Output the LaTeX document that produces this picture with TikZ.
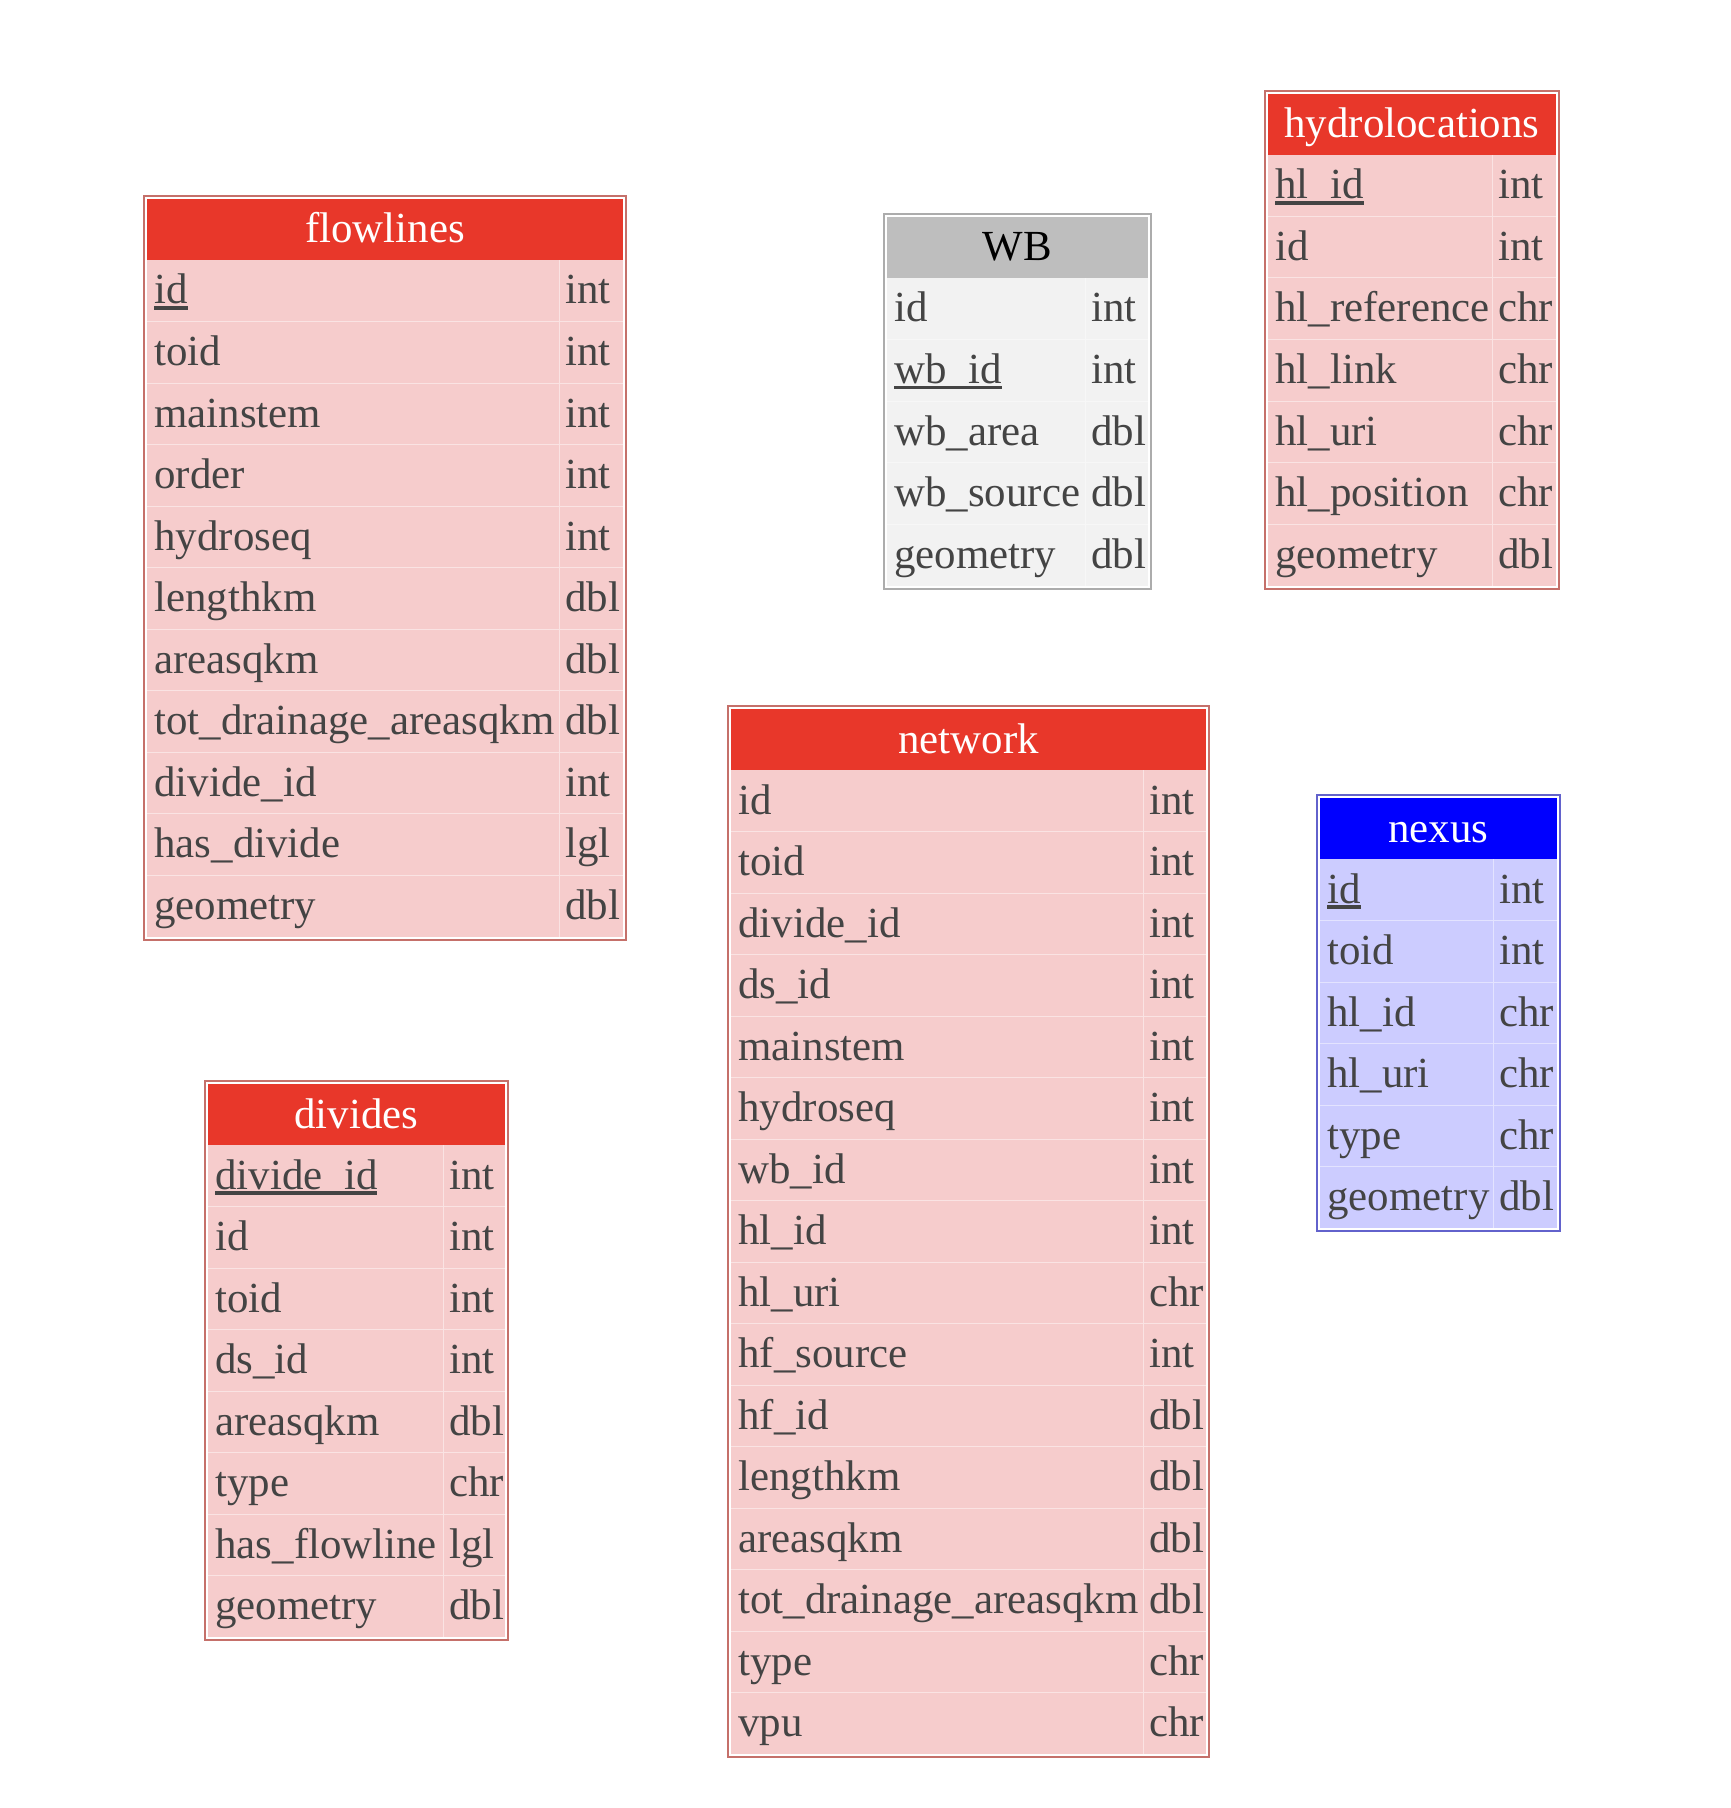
\documentclass[tikz,border=0pt]{standalone}
\usepackage{fontspec}
\setmainfont{Liberation Serif}
\definecolor{redhead}{HTML}{E8372A}
\definecolor{redbody}{HTML}{F6CCCC}
\definecolor{redline}{HTML}{C5706A}
\definecolor{bluehead}{HTML}{0000FF}
\definecolor{bluebody}{HTML}{CCCCFF}
\definecolor{blueline}{HTML}{6262CC}
\definecolor{greyhead}{HTML}{BEBEBE}
\definecolor{greybody}{HTML}{F2F2F2}
\definecolor{greyline}{HTML}{ACACAC}
\definecolor{fieldtext}{HTML}{444444}
\newcommand\fieldfont{\fontsize{21.45}{25}\selectfont}
\newsavebox\keybox
\newcommand\keyfield[1]{\sbox\keybox{#1}\rlap{\rule[-0.13em]{\wd\keybox}{0.075em}}\usebox\keybox}
\tikzset{
  tableframe/.style={draw=#1, line width=1pt},
  cellsep/.style={draw=white, opacity=0.45, line width=0.5pt},
  headtext/.style={anchor=base, inner sep=0pt, text=white, font=\fieldfont},
  fieldname/.style={anchor=base west, inner sep=0pt, text=fieldtext, font=\fieldfont},
  fieldtype/.style={fieldname}
}
\begin{document}
\begin{tikzpicture}[x=0.5pt, y=-0.5pt]
  \useasboundingbox (0,0) rectangle (1730,1808);
  % flowlines
  \fill[redhead] (147,199) rectangle (623,260);
  \fill[redbody] (147,260) rectangle (623,936.5);
  \draw[cellsep] (147,321.5) -- (623,321.5) (147,383) -- (623,383)
    (147,444.5) -- (623,444.5) (147,506) -- (623,506) (147,567.5) -- (623,567.5)
    (147,629) -- (623,629) (147,690.5) -- (623,690.5) (147,752) -- (623,752)
    (147,813.5) -- (623,813.5) (147,875) -- (623,875) (559,260) -- (559,936.5);
  \draw[tableframe=redline] (144,196) rectangle (626,939.5);
  \draw
    (385,243) node[headtext] (flowlines) {flowlines}
    (154,304) node[fieldname] (fl-id) {\keyfield{id}}
    (154,365.5) node[fieldname] (fl-toid) {toid}
    (154,427) node[fieldname] (fl-mainstem) {mainstem}
    (154,488.5) node[fieldname] (fl-order) {order}
    (154,550) node[fieldname] (fl-hydroseq) {hydroseq}
    (154,611.5) node[fieldname] (fl-lengthkm) {lengthkm}
    (154,673) node[fieldname] (fl-areasqkm) {areasqkm}
    (154,734.5) node[fieldname] (fl-totarea) {tot\_drainage\_areasqkm}
    (154,796) node[fieldname] (fl-divide) {divide\_id}
    (154,857.5) node[fieldname] (fl-hasdivide) {has\_divide}
    (154,919) node[fieldname] (fl-geometry) {geometry}
    (565,304) node[fieldtype] (fl-id-t) {int}
    (565,365.5) node[fieldtype] (fl-toid-t) {int}
    (565,427) node[fieldtype] (fl-mainstem-t) {int}
    (565,488.5) node[fieldtype] (fl-order-t) {int}
    (565,550) node[fieldtype] (fl-hydroseq-t) {int}
    (565,611.5) node[fieldtype] (fl-lengthkm-t) {dbl}
    (565,673) node[fieldtype] (fl-areasqkm-t) {dbl}
    (565,734.5) node[fieldtype] (fl-totarea-t) {dbl}
    (565,796) node[fieldtype] (fl-divide-t) {int}
    (565,857.5) node[fieldtype] (fl-hasdivide-t) {lgl}
    (565,919) node[fieldtype] (fl-geometry-t) {dbl};
  % WB
  \fill[greyhead] (887,217) rectangle (1148,278);
  \fill[greybody] (887,278) rectangle (1148,585.5);
  \draw[cellsep] (887,339.5) -- (1148,339.5) (887,401) -- (1148,401)
    (887,462.5) -- (1148,462.5) (887,524) -- (1148,524) (1085,278) -- (1085,585.5);
  \draw[tableframe=greyline] (884,214) rectangle (1151,588.5);
  \draw
    (1017.5,261) node[headtext, text=black] (wb) {WB}
    (894,322) node[fieldname] (wb-id) {id}
    (894,383.5) node[fieldname] (wb-wbid) {\keyfield{wb\_id}}
    (894,445) node[fieldname] (wb-area) {wb\_area}
    (894,506.5) node[fieldname] (wb-source) {wb\_source}
    (894,568) node[fieldname] (wb-geometry) {geometry}
    (1091,322) node[fieldtype] (wb-id-t) {int}
    (1091,383.5) node[fieldtype] (wb-wbid-t) {int}
    (1091,445) node[fieldtype] (wb-area-t) {dbl}
    (1091,506.5) node[fieldtype] (wb-source-t) {dbl}
    (1091,568) node[fieldtype] (wb-geometry-t) {dbl};
  % hydrolocations
  \fill[redhead] (1268,94) rectangle (1556,155);
  \fill[redbody] (1268,155) rectangle (1556,585.5);
  \draw[cellsep] (1268,216.5) -- (1556,216.5) (1268,278) -- (1556,278)
    (1268,339.5) -- (1556,339.5) (1268,401) -- (1556,401) (1268,462.5) -- (1556,462.5)
    (1268,524) -- (1556,524) (1492,155) -- (1492,585.5);
  \draw[tableframe=redline] (1265,91) rectangle (1559,588.5);
  \draw
    (1412,138) node[headtext] (hydrolocations) {hydrolocations}
    (1275,199) node[fieldname] (hl-hlid) {\keyfield{hl\_id}}
    (1275,260.5) node[fieldname] (hl-id) {id}
    (1275,322) node[fieldname] (hl-reference) {hl\_reference}
    (1275,383.5) node[fieldname] (hl-link) {hl\_link}
    (1275,445) node[fieldname] (hl-uri) {hl\_uri}
    (1275,506.5) node[fieldname] (hl-position) {hl\_position}
    (1275,568) node[fieldname] (hl-geometry) {geometry}
    (1498,199) node[fieldtype] (hl-hlid-t) {int}
    (1498,260.5) node[fieldtype] (hl-id-t) {int}
    (1498,322) node[fieldtype] (hl-reference-t) {chr}
    (1498,383.5) node[fieldtype] (hl-link-t) {chr}
    (1498,445) node[fieldtype] (hl-uri-t) {chr}
    (1498,506.5) node[fieldtype] (hl-position-t) {chr}
    (1498,568) node[fieldtype] (hl-geometry-t) {dbl};
  % network
  \fill[redhead] (731,709) rectangle (1206,770);
  \fill[redbody] (731,770) rectangle (1206,1754);
  \draw[cellsep] (731,831.5) -- (1206,831.5) (731,893) -- (1206,893)
    (731,954.5) -- (1206,954.5) (731,1016) -- (1206,1016) (731,1077.5) -- (1206,1077.5)
    (731,1139) -- (1206,1139) (731,1200.5) -- (1206,1200.5) (731,1262) -- (1206,1262)
    (731,1323.5) -- (1206,1323.5) (731,1385) -- (1206,1385) (731,1446.5) -- (1206,1446.5)
    (731,1508) -- (1206,1508) (731,1569.5) -- (1206,1569.5) (731,1631) -- (1206,1631)
    (731,1692.5) -- (1206,1692.5) (1143,770) -- (1143,1754);
  \draw[tableframe=redline] (728,706) rectangle (1209,1757);
  \draw
    (968.5,753) node[headtext] (network) {network}
    (738,814) node[fieldname] (nw-id) {id}
    (738,875.5) node[fieldname] (nw-toid) {toid}
    (738,937) node[fieldname] (nw-divide) {divide\_id}
    (738,998.5) node[fieldname] (nw-ds) {ds\_id}
    (738,1060) node[fieldname] (nw-mainstem) {mainstem}
    (738,1121.5) node[fieldname] (nw-hydroseq) {hydroseq}
    (738,1183) node[fieldname] (nw-wb) {wb\_id}
    (738,1244.5) node[fieldname] (nw-hl) {hl\_id}
    (738,1306) node[fieldname] (nw-hluri) {hl\_uri}
    (738,1367.5) node[fieldname] (nw-hfsource) {hf\_source}
    (738,1429) node[fieldname] (nw-hf) {hf\_id}
    (738,1490.5) node[fieldname] (nw-lengthkm) {lengthkm}
    (738,1552) node[fieldname] (nw-areasqkm) {areasqkm}
    (738,1613.5) node[fieldname] (nw-totarea) {tot\_drainage\_areasqkm}
    (738,1675) node[fieldname] (nw-type) {type}
    (738,1736.5) node[fieldname] (nw-vpu) {vpu}
    (1149,814) node[fieldtype] (nw-id-t) {int}
    (1149,875.5) node[fieldtype] (nw-toid-t) {int}
    (1149,937) node[fieldtype] (nw-divide-t) {int}
    (1149,998.5) node[fieldtype] (nw-ds-t) {int}
    (1149,1060) node[fieldtype] (nw-mainstem-t) {int}
    (1149,1121.5) node[fieldtype] (nw-hydroseq-t) {int}
    (1149,1183) node[fieldtype] (nw-wb-t) {int}
    (1149,1244.5) node[fieldtype] (nw-hl-t) {int}
    (1149,1306) node[fieldtype] (nw-hluri-t) {chr}
    (1149,1367.5) node[fieldtype] (nw-hfsource-t) {int}
    (1149,1429) node[fieldtype] (nw-hf-t) {dbl}
    (1149,1490.5) node[fieldtype] (nw-lengthkm-t) {dbl}
    (1149,1552) node[fieldtype] (nw-areasqkm-t) {dbl}
    (1149,1613.5) node[fieldtype] (nw-totarea-t) {dbl}
    (1149,1675) node[fieldtype] (nw-type-t) {chr}
    (1149,1736.5) node[fieldtype] (nw-vpu-t) {chr};
  % nexus
  \fill[bluehead] (1320,798) rectangle (1557,859);
  \fill[bluebody] (1320,859) rectangle (1557,1228);
  \draw[cellsep] (1320,920.5) -- (1557,920.5) (1320,982) -- (1557,982)
    (1320,1043.5) -- (1557,1043.5) (1320,1105) -- (1557,1105) (1320,1166.5) -- (1557,1166.5)
    (1493,859) -- (1493,1228);
  \draw[tableframe=blueline] (1317,795) rectangle (1560,1231);
  \draw
    (1438.5,842) node[headtext] (nexus) {nexus}
    (1327,903) node[fieldname] (nx-id) {\keyfield{id}}
    (1327,964.5) node[fieldname] (nx-toid) {toid}
    (1327,1026) node[fieldname] (nx-hl) {hl\_id}
    (1327,1087.5) node[fieldname] (nx-hluri) {hl\_uri}
    (1327,1149) node[fieldname] (nx-type) {type}
    (1327,1210.5) node[fieldname] (nx-geometry) {geometry}
    (1499,903) node[fieldtype] (nx-id-t) {int}
    (1499,964.5) node[fieldtype] (nx-toid-t) {int}
    (1499,1026) node[fieldtype] (nx-hl-t) {chr}
    (1499,1087.5) node[fieldtype] (nx-hluri-t) {chr}
    (1499,1149) node[fieldtype] (nx-type-t) {chr}
    (1499,1210.5) node[fieldtype] (nx-geometry-t) {dbl};
  % divides
  \fill[redhead] (208,1084) rectangle (505,1145);
  \fill[redbody] (208,1145) rectangle (505,1637);
  \draw[cellsep] (208,1206.5) -- (505,1206.5) (208,1268) -- (505,1268)
    (208,1329.5) -- (505,1329.5) (208,1391) -- (505,1391) (208,1452.5) -- (505,1452.5)
    (208,1514) -- (505,1514) (208,1575.5) -- (505,1575.5) (443,1145) -- (443,1637);
  \draw[tableframe=redline] (205,1081) rectangle (508,1640);
  \draw
    (356.5,1128) node[headtext] (divides) {divides}
    (215,1189) node[fieldname] (dv-divide) {\keyfield{divide\_id}}
    (215,1250.5) node[fieldname] (dv-id) {id}
    (215,1312) node[fieldname] (dv-toid) {toid}
    (215,1373.5) node[fieldname] (dv-ds) {ds\_id}
    (215,1435) node[fieldname] (dv-areasqkm) {areasqkm}
    (215,1496.5) node[fieldname] (dv-type) {type}
    (215,1558) node[fieldname] (dv-hasflowline) {has\_flowline}
    (215,1619.5) node[fieldname] (dv-geometry) {geometry}
    (449,1189) node[fieldtype] (dv-divide-t) {int}
    (449,1250.5) node[fieldtype] (dv-id-t) {int}
    (449,1312) node[fieldtype] (dv-toid-t) {int}
    (449,1373.5) node[fieldtype] (dv-ds-t) {int}
    (449,1435) node[fieldtype] (dv-areasqkm-t) {dbl}
    (449,1496.5) node[fieldtype] (dv-type-t) {chr}
    (449,1558) node[fieldtype] (dv-hasflowline-t) {lgl}
    (449,1619.5) node[fieldtype] (dv-geometry-t) {dbl};
\end{tikzpicture}
\end{document}
